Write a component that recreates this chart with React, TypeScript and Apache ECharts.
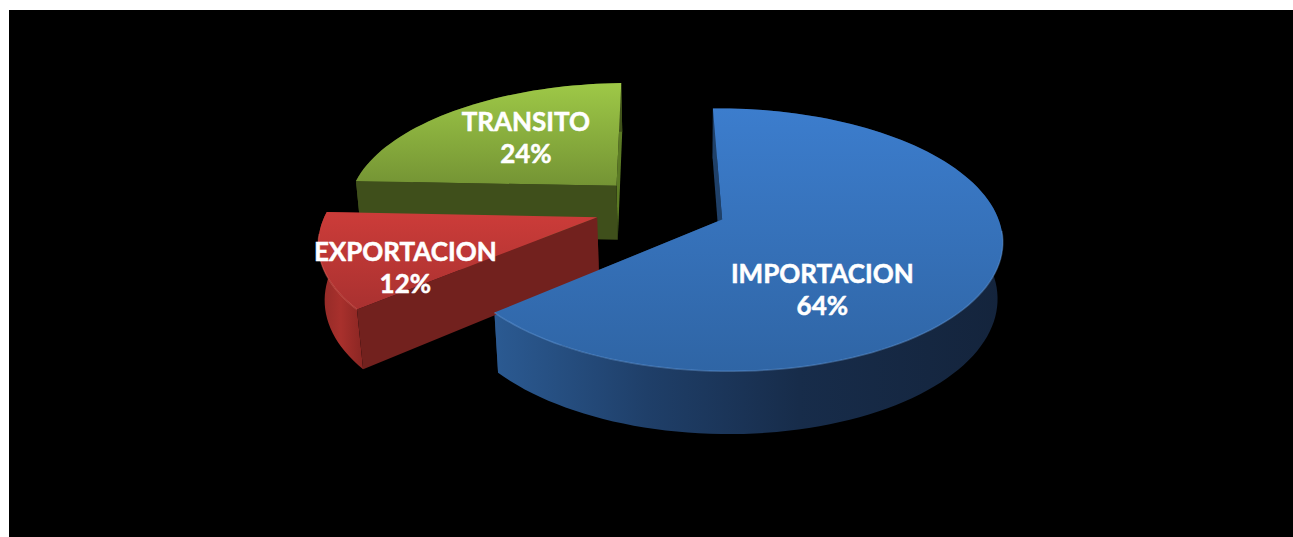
import React, { useEffect, useRef } from "react";
import * as echarts from "echarts";

const categories = ["IMPORTACION", "EXPORTACION", "TRANSITO"];
const shares = [64, 12, 24];

const W = 1293;
const H = 537;

// Perspective model of the pie: fitted camera
const VP_X = 661;
const VP_Y = 207;
const HORIZON_Y = -611;
const NADIR_Y = 3600;
const CENTER_DEPTH_H = 818;
const SCALE_X = 271;
const DEPTH_K = 0.152;
const THICK = 0.0165;
const EXPLODE = 0.245;
const ROLL = 0.01;

const FONT = '700 26px Lato, "Noto Sans", sans-serif';

const labelPlace: Record<string, { angle: number; radius: number }> = {
  IMPORTACION: { angle: 148.1, radius: 0.597 },
  EXPORTACION: { angle: 241.4, radius: 0.741 },
  TRANSITO: { angle: 320, radius: 0.584 },
};

const looks: Record<string, any> = {
  IMPORTACION: {
    top: ["#3c7dcd", "#2f65a5"],
    wall: [
      [0, "#2b5a92"],
      [0.3, "#1f3f69"],
      [0.6, "#172c4a"],
      [1, "#14243c"],
    ],
    back: "#1f4068",
    front: "#1f4068",
    rim: "rgba(110,165,230,0.4)",
  },
  EXPORTACION: {
    top: ["#cc3c39", "#a93130"],
    wall: [
      [0, "#8f2a27"],
      [0.5, "#a8302c"],
      [1, "#8a2623"],
    ],
    back: "#72211e",
    front: "#72211e",
    rim: "rgba(235,110,100,0.4)",
  },
  TRANSITO: {
    top: ["#9ec847", "#749434"],
    wall: [
      [0, "#40521a"],
      [1, "#40521a"],
    ],
    back: "#5b7a24",
    front: "#3f4f1b",
    rim: "rgba(190,225,110,0)",
  },
};

const rad = (d: number) => (d * Math.PI) / 180;

// ground (X east, Y north) -> screen; lower = true gives the bottom plane
function project(X: number, Y: number, lower: boolean): number[] {
  const w = 1 + DEPTH_K * Y;
  let x = VP_X + (SCALE_X * X) / w;
  let y = HORIZON_Y + CENTER_DEPTH_H / w;
  if (lower) {
    const d = w + THICK;
    x = (x * w + VP_X * THICK) / d;
    y = (y * w + NADIR_Y * THICK) / d;
  }
  return [x + ROLL * (y - VP_Y), y - ROLL * (x - VP_X)];
}

const total = shares.reduce((a, b) => a + b, 0);
const starts: number[] = [];
shares.reduce((acc, v, i) => {
  starts[i] = acc;
  return acc + (v / total) * 360;
}, 0);

function onDisc(cx: number, cy: number, r: number, deg: number): number[] {
  return [cx + r * Math.sin(rad(deg)), cy + r * Math.cos(rad(deg))];
}

function renderSlice(_params: any, api: any) {
  const i = api.value(0) as number;
  const name = categories[i];
  const look = looks[name];
  const a0 = starts[i];
  const a1 = a0 + (api.value(1) / total) * 360;
  const mid = (a0 + a1) / 2;
  const [cx, cy] = onDisc(0, 0, EXPLODE, mid);

  const steps = Math.max(8, Math.round((a1 - a0) / 2));
  const arc: number[][] = [];
  const angles: number[] = [];
  for (let k = 0; k <= steps; k++) {
    const a = a0 + ((a1 - a0) * k) / steps;
    angles.push(a);
    arc.push(onDisc(cx, cy, 1, a));
  }
  const topArc = arc.map((p) => project(p[0], p[1], false));
  const lowArc = arc.map((p) => project(p[0], p[1], true));
  const apexT = project(cx, cy, false);
  const apexL = project(cx, cy, true);

  const children: any[] = [];
  // radial face at the end of the slice
  children.push({
    type: "polygon",
    shape: { points: [apexT, topArc[steps], lowArc[steps], apexL] },
    style: { fill: look.back },
    z2: 1,
  });
  // outer wall
  children.push({
    type: "polygon",
    shape: { points: topArc.concat(lowArc.slice().reverse()) },
    style: {
      fill: new echarts.graphic.LinearGradient(
        0,
        0,
        1,
        0,
        look.wall.map((s: any) => ({ offset: s[0], color: s[1] }))
      ),
    },
    z2: 2,
  });
  // radial face at the start of the slice
  children.push({
    type: "polygon",
    shape: { points: [apexT, topArc[0], lowArc[0], apexL] },
    style: { fill: look.front },
    z2: 3,
  });
  // top face
  children.push({
    type: "polygon",
    shape: { points: [apexT].concat(topArc) },
    style: {
      fill: new echarts.graphic.LinearGradient(0, 0, 0, 1, [
        { offset: 0, color: look.top[0] },
        { offset: 1, color: look.top[1] },
      ]),
    },
    z2: 4,
  });
  // rim highlight on the near part of the arc
  const near = topArc.filter((_, k) => Math.cos(rad(angles[k])) < -0.1);
  if (near.length > 1) {
    children.push({
      type: "polyline",
      shape: { points: near },
      style: { stroke: look.rim, lineWidth: 1.5, fill: "none" },
      z2: 5,
    });
  }
  // label
  const place = labelPlace[name];
  const lp = onDisc(cx, cy, place.radius, place.angle);
  const sp = project(lp[0], lp[1], false);
  children.push({
    type: "text",
    style: {
      text: name + "\n" + api.value(1) + "%",
      x: sp[0],
      y: sp[1],
      fill: "#ffffff",
      stroke: "#ffffff",
      lineWidth: 0.5,
      font: FONT,
      align: "center",
      verticalAlign: "middle",
      lineHeight: 32,
    },
    z2: 10,
  });
  return { type: "group", children };
}

export default function App() {
  const ref = useRef<HTMLDivElement>(null);
  useEffect(() => {
    const chart = echarts.init(ref.current!, null, { renderer: "svg" });
    // paint from the back slice to the front one
    const paint = shares.map((v, i) => [i, v]).reverse();
    chart.setOption({
      animation: false,
      backgroundColor: "#ffffff",
      graphic: [
        {
          type: "rect",
          left: 9,
          top: 10,
          z: -1,
          silent: true,
          shape: { width: W - 9, height: H - 10 },
          style: { fill: "#000000" },
        },
      ],
      series: [
        {
          type: "custom",
          coordinateSystem: "none",
          renderItem: renderSlice,
          data: paint,
          silent: true,
          z: 5,
        },
      ],
    });
    return () => chart.dispose();
  }, []);
  return (
    <div
      ref={ref}
      style={{ position: "fixed", left: 0, top: 0, width: W, height: H }}
    />
  );
}
